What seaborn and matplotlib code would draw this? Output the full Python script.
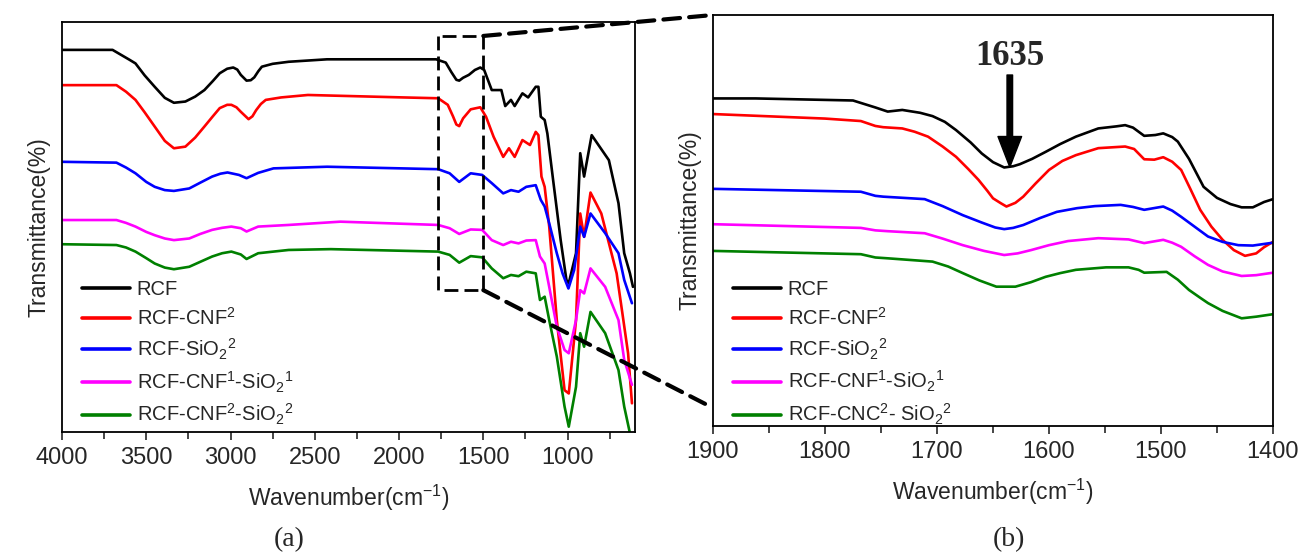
import matplotlib
matplotlib.use("Agg")
import matplotlib.pyplot as plt
from matplotlib.patches import ConnectionPatch
import seaborn as sns
import pandas as pd

# ---------------- panel (a): full FTIR spectra (4000-600 cm-1) ----------------
wn_a_rcf = [4000, 3700, 3650, 3600, 3564, 3510, 3450, 3390, 3336, 3268, 3210, 3155, 3105, 3064,
            3020, 2984, 2960, 2939, 2905, 2880, 2859, 2835, 2814, 2750, 2655, 2427, 1973, 1780,
            1723, 1690, 1660, 1643, 1620, 1586, 1550, 1518, 1495, 1450, 1393, 1370, 1336, 1314,
            1268, 1234, 1189, 1173, 1159, 1136, 1120, 1086, 1041, 1007, 993, 950, 925, 902, 857,
            755, 698, 664, 630, 612]
t_a_rcf = [93.2, 93.2, 92.0, 90.8, 89.9, 87.0, 84.2, 81.5, 80.3, 80.6, 81.8, 83.4, 85.6, 87.5,
           88.6, 88.9, 88.4, 87.1, 85.7, 85.8, 86.5, 88.0, 89.1, 89.8, 90.3, 90.9, 90.9, 90.9,
           90.1, 87.8, 85.9, 85.7, 86.4, 87.1, 88.3, 88.9, 88.3, 83.4, 83.4, 79.5, 81.0, 79.5,
           82.6, 81.6, 84.2, 84.2, 76.9, 76.1, 72.8, 61.5, 46.8, 37.1, 36.3, 43.6, 68.0, 62.3, 72.4,
           66.3, 55.8, 43.6, 38.7, 35.4]

wn_a_cnf = [4000, 3677, 3620, 3564, 3510, 3450, 3390, 3336, 3268, 3210, 3155, 3105, 3064, 3020,
            2995, 2965, 2939, 2893, 2870, 2848, 2820, 2791, 2700, 2541, 1973, 1768, 1711, 1680,
            1660, 1643, 1620, 1575, 1518, 1484, 1439, 1382, 1348, 1314, 1268, 1223, 1189, 1173,
            1155, 1136, 1109, 1064, 1018, 993, 950, 925, 902, 864, 800, 709, 675, 641, 618]
t_a_cnf = [84.6, 84.6, 83.0, 81.0, 78.0, 74.5, 71.0, 69.2, 69.6, 71.8, 74.5, 77.0, 79.0, 79.8,
           79.8, 79.2, 78.1, 76.3, 77.0, 78.5, 80.0, 81.0, 81.6, 82.2, 81.6, 81.4, 79.8, 77.0,
           75.0, 74.6, 76.5, 78.7, 79.2, 76.9, 72.0, 67.1, 69.2, 67.1, 71.2, 70.0, 73.2, 72.4,
           62.3, 59.8, 50.1, 27.3, 10.2, 9.4, 27.3, 53.3, 47.6, 58.4, 53.3, 38.7, 29.0, 19.2, 7.0]

wn_a_sio2 = [4000, 3677, 3620, 3564, 3500, 3450, 3390, 3336, 3245, 3180, 3109, 3060, 3018, 2950,
             2905, 2836, 2745, 2427, 1768, 1700, 1643, 1575, 1507, 1450, 1382, 1336, 1291, 1245,
             1189, 1159, 1136, 1109, 1064, 1030, 995, 961, 925, 902, 864, 777, 698, 664, 618]
t_a_sio2 = [65.9, 65.7, 64.5, 63.1, 61.0, 59.8, 59.0, 58.8, 59.4, 60.8, 62.3, 63.0, 63.3, 62.7,
            61.9, 63.2, 64.3, 64.7, 64.1, 63.1, 61.0, 63.1, 62.7, 60.7, 58.2, 59.0, 58.6, 59.8,
            60.2, 56.6, 55.0, 50.9, 43.6, 38.7, 35.0, 39.5, 50.1, 47.6, 53.3, 48.5, 43.6, 37.1, 31.4]

wn_a_cnf1 = [4000, 3677, 3620, 3564, 3500, 3450, 3390, 3336, 3245, 3180, 3109, 3050, 2995, 2939,
             2905, 2836, 2655, 2348, 1768, 1700, 1643, 1575, 1507, 1450, 1382, 1336, 1291, 1245,
             1189, 1164, 1136, 1109, 1064, 1018, 993, 950, 925, 902, 864, 777, 698, 664, 618]
t_a_cnf1 = [51.7, 51.7, 51.0, 50.1, 48.8, 48.0, 47.2, 46.8, 47.2, 48.3, 49.3, 49.8, 50.1, 49.7,
            48.9, 50.1, 50.5, 51.3, 50.5, 49.7, 48.3, 49.4, 49.3, 46.8, 45.6, 46.4, 46.0, 46.7,
            46.8, 42.8, 41.1, 35.4, 25.7, 20.0, 19.2, 27.3, 34.6, 33.8, 39.9, 35.4, 27.3, 17.6, 11.5]

wn_a_cnf2 = [4000, 3677, 3620, 3564, 3500, 3450, 3390, 3336, 3245, 3180, 3109, 3050, 2995, 2939,
             2905, 2836, 2655, 2405, 1768, 1700, 1643, 1575, 1507, 1450, 1382, 1336, 1291, 1245,
             1189, 1164, 1136, 1109, 1064, 1018, 993, 950, 925, 902, 864, 777, 698, 664, 630]
t_a_cnf2 = [45.8, 45.6, 45.0, 44.0, 42.4, 41.1, 40.1, 39.7, 40.3, 41.5, 42.8, 43.6, 44.0, 43.3,
            42.2, 43.6, 44.4, 44.6, 44.0, 43.2, 41.3, 42.9, 42.6, 39.9, 37.5, 38.3, 38.0, 39.1,
            38.7, 32.2, 33.0, 27.3, 18.4, 6.2, 1.3, 11.0, 24.1, 20.8, 29.3, 24.1, 15.1, 6.2, -0.3]

# ---------------- panel (b): enlarged 1900-1400 cm-1 region ----------------
wn_b_rcf = [1900, 1862, 1775, 1755, 1744, 1731, 1715, 1704, 1693, 1683, 1670, 1660, 1650, 1640,
            1632, 1626, 1615, 1603, 1590, 1576, 1556, 1540, 1532, 1525, 1515, 1505, 1498, 1490,
            1485, 1475, 1462, 1450, 1438, 1428, 1418, 1408, 1400]
t_b_rcf = [79.7, 79.7, 79.2, 77.5, 76.5, 76.9, 76.2, 75.4, 74.0, 72.0, 69.0, 66.3, 64.2, 62.9,
           63.2, 63.7, 65.0, 66.7, 68.6, 70.4, 72.4, 72.9, 73.2, 72.6, 70.6, 70.8, 71.2, 70.3,
           69.2, 65.0, 58.2, 55.5, 54.0, 53.2, 53.2, 54.5, 55.2]

wn_b_cnf = [1900, 1800, 1768, 1755, 1748, 1731, 1720, 1708, 1695, 1683, 1672, 1663, 1655, 1650,
            1643, 1638, 1630, 1623, 1612, 1600, 1588, 1576, 1556, 1532, 1524, 1515, 1506, 1498,
            1490, 1482, 1474, 1465, 1455, 1445, 1435, 1425, 1415, 1408, 1400]
t_b_cnf = [75.9, 74.8, 74.2, 73.0, 72.7, 72.4, 71.6, 70.4, 68.0, 65.5, 62.5, 59.9, 57.2, 55.4,
           54.2, 53.4, 54.3, 55.8, 59.0, 62.3, 64.5, 65.9, 67.6, 68.0, 67.4, 64.9, 64.8, 65.4,
           64.3, 62.3, 57.8, 52.6, 48.5, 45.3, 42.8, 41.4, 42.0, 43.5, 44.8]

wn_b_sio2 = [1900, 1768, 1755, 1748, 1711, 1695, 1677, 1660, 1648, 1640, 1632, 1623, 1608, 1593,
             1575, 1559, 1536, 1525, 1515, 1498, 1490, 1482, 1470, 1458, 1445, 1431, 1418, 1400]
t_b_sio2 = [57.7, 57.0, 56.0, 55.8, 55.2, 53.5, 51.3, 49.5, 48.3, 47.9, 48.2, 48.9, 50.6, 52.1,
            53.0, 53.5, 53.8, 53.3, 52.6, 53.4, 52.4, 50.9, 48.5, 46.1, 44.8, 44.0, 43.9, 44.6]

wn_b_cnf1 = [1900, 1768, 1755, 1744, 1711, 1695, 1677, 1658, 1640, 1628, 1616, 1600, 1583, 1556,
             1529, 1515, 1498, 1490, 1482, 1470, 1458, 1445, 1428, 1415, 1400]
t_b_cnf1 = [49.1, 48.2, 47.6, 47.4, 46.9, 45.6, 44.0, 42.6, 41.6, 42.0, 42.8, 44.0, 45.0, 45.7,
            45.4, 44.5, 45.3, 44.6, 43.6, 41.3, 39.2, 37.6, 36.5, 36.7, 37.3]

wn_b_cnc2 = [1900, 1768, 1755, 1744, 1704, 1690, 1677, 1662, 1647, 1630, 1616, 1603, 1590, 1576,
             1549, 1529, 1520, 1515, 1495, 1485, 1475, 1465, 1458, 1445, 1428, 1415, 1400]
t_b_cnc2 = [42.6, 41.8, 41.0, 40.8, 40.0, 38.8, 37.2, 35.4, 33.9, 33.9, 35.0, 36.3, 37.2, 38.0,
            38.6, 38.6, 38.0, 37.3, 37.5, 35.6, 33.1, 31.2, 29.9, 28.0, 26.2, 26.6, 27.2]

labels_a = ["RCF", "RCF-CNF$^2$", "RCF-SiO$_2$$^2$", "RCF-CNF$^1$-SiO$_2$$^1$",
            "RCF-CNF$^2$-SiO$_2$$^2$"]
labels_b = ["RCF", "RCF-CNF$^2$", "RCF-SiO$_2$$^2$", "RCF-CNF$^1$-SiO$_2$$^1$",
            "RCF-CNC$^2$- SiO$_2$$^2$"]
colors = ["#000000", "#ff0000", "#0000ff", "#ff00ff", "#008000"]

peak_wn = 1635          # annotated band
zoom_window = (1770, 1500, 34.6, 96.6)   # x_left, x_right, y_low, y_high of the marked region

sns.set_style("ticks")
plt.rcParams["font.family"] = ["Liberation Sans", "DejaVu Sans"]
plt.rcParams["mathtext.fontset"] = "custom"
plt.rcParams["mathtext.rm"] = "Liberation Sans"
plt.rcParams["mathtext.it"] = "Liberation Sans:italic"
plt.rcParams["mathtext.bf"] = "Liberation Sans:bold"

fig = plt.figure(figsize=(13.02, 5.54), dpi=100)
ax_a = fig.add_axes([62 / 1302, 1 - 432 / 554, 573 / 1302, 410 / 554])
ax_b = fig.add_axes([713 / 1302, 1 - 426 / 554, 560 / 1302, 411 / 554])


def spectra_frame(series, labels):
    rows = []
    for (wn, t), lab in zip(series, labels):
        rows.append(pd.DataFrame({"wavenumber": wn, "T": t, "sample": lab}))
    return pd.concat(rows, ignore_index=True)


df_a = spectra_frame([(wn_a_rcf, t_a_rcf), (wn_a_cnf, t_a_cnf), (wn_a_sio2, t_a_sio2),
                      (wn_a_cnf1, t_a_cnf1), (wn_a_cnf2, t_a_cnf2)], labels_a)
df_b = spectra_frame([(wn_b_rcf, t_b_rcf), (wn_b_cnf, t_b_cnf), (wn_b_sio2, t_b_sio2),
                      (wn_b_cnf1, t_b_cnf1), (wn_b_cnc2, t_b_cnc2)], labels_b)

for ax, df, labels, leg_y in ((ax_a, df_a, labels_a, -0.038), (ax_b, df_b, labels_b, -0.052)):
    sns.lineplot(data=df, x="wavenumber", y="T", hue="sample", hue_order=labels,
                 palette=colors, estimator=None, sort=False, lw=1.9, ax=ax)
    for ln in ax.get_lines():
        ln.set_solid_joinstyle("round")
    ax.set_ylim(0, 100)
    ax.set_yticks([])
    ax.set_ylabel("Transmittance(%)", fontsize=16.5, labelpad=8)
    ax.set_xlabel("Wavenumber(cm$^{-1}$)", fontsize=16.5, labelpad=10)
    ax.tick_params(axis="x", which="major", direction="out", length=6, width=1.2,
                   labelsize=17, pad=5)
    ax.tick_params(axis="x", which="minor", direction="out", length=5, width=1.2)
    for sp in ax.spines.values():
        sp.set_linewidth(1.3)
        sp.set_color("black")
    leg = ax.legend(loc="lower left", bbox_to_anchor=(0.0, leg_y), frameon=False,
                    fontsize=14.5, handlelength=2.4, handletextpad=0.3, labelspacing=0.38,
                    borderaxespad=0.6)
    for line in leg.get_lines():
        line.set_linewidth(2.6)

ax_a.set_xlim(4000, 600)
ax_a.set_xticks([4000, 3500, 3000, 2500, 2000, 1500, 1000])
ax_a.set_xticks([3750, 3250, 2750, 2250, 1750, 1250, 750], minor=True)

ax_b.set_xlim(1900, 1400)
ax_b.set_xticks([1900, 1800, 1700, 1600, 1500, 1400])
ax_b.set_xticks([1850, 1750, 1650, 1550, 1450], minor=True)

# marked region on the full spectrum
xl, xr, yl, yh = zoom_window
ax_a.plot([xl, xl, xr, xr, xl], [yh, yl, yl, yh, yh], color="black", lw=2.0,
          ls=(0, (5, 2.2)), clip_on=False, zorder=5)

# dashed guides to the enlarged panel
for ya, yb in ((yh, 1.0), (yl, 0.044)):
    con = ConnectionPatch(xyA=(xr, ya), coordsA=ax_a.transData,
                          xyB=(0.0, yb), coordsB=ax_b.transAxes,
                          color="black", lw=3.0, ls=(0, (4, 2.2)), zorder=6)
    fig.add_artist(con)

# arrow marking the 1635 cm-1 band
ax_b.annotate("", xy=(peak_wn, 63.0), xytext=(peak_wn, 85.4),
              arrowprops=dict(facecolor="black", edgecolor="black", width=4,
                              headwidth=17, headlength=22, shrink=0))
ax_b.text(peak_wn, 90.0, str(peak_wn), ha="center", va="center", fontsize=25,
          fontweight="bold", family="Liberation Serif")

fig.text(289 / 1302, 1 - 540 / 554, "(a)", ha="center", va="center", fontsize=20,
         family="Liberation Serif")
fig.text(1009 / 1302, 1 - 540 / 554, "(b)", ha="center", va="center", fontsize=20,
         family="Liberation Serif")

fig.savefig("out.png", dpi=100)
